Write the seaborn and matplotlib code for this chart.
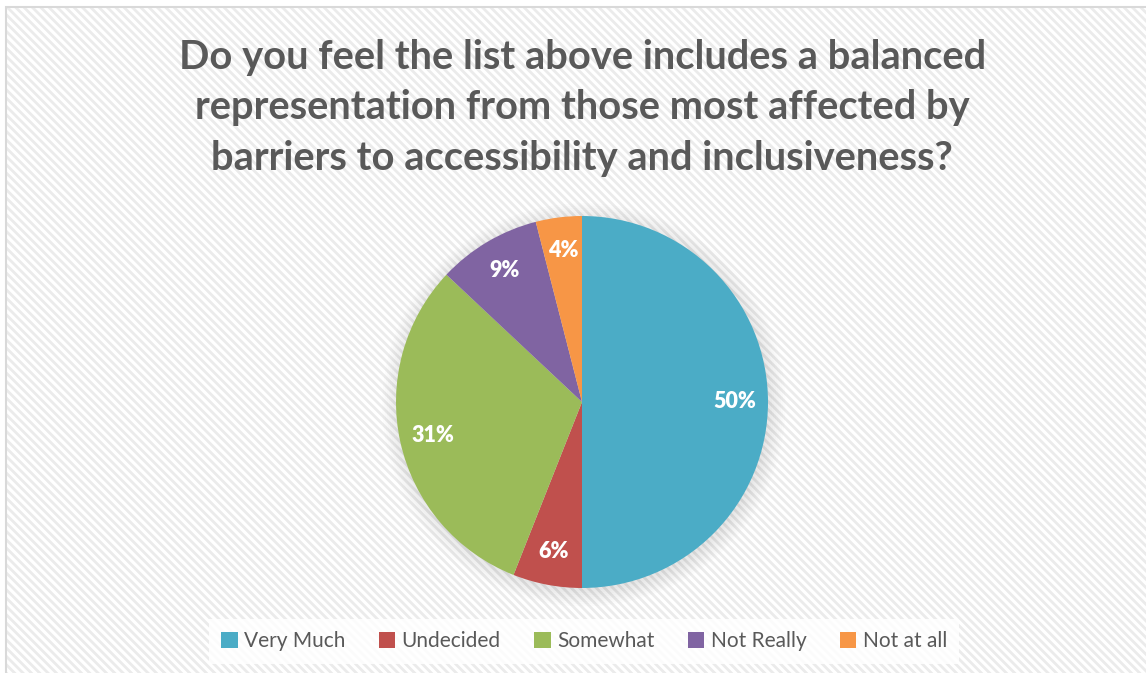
import matplotlib
matplotlib.use('Agg')
import matplotlib.pyplot as plt
from matplotlib.patches import Rectangle, Circle
import seaborn as sns

sns.set_theme(style='white')
plt.rcParams['font.family'] = ['Lato', 'DejaVu Sans']
plt.rcParams['hatch.color'] = '#ebebeb'
plt.rcParams['hatch.linewidth'] = 2.0

# data
answers = ['Very Much', 'Undecided', 'Somewhat', 'Not Really', 'Not at all']
shares = [50, 6, 31, 9, 4]
colors = ['#4BACC6', '#C0504D', '#9BBB59', '#8064A2', '#F79646']
title = ('Do you feel the list above includes a balanced\n'
         'representation from those most affected by\n'
         'barriers to accessibility and inclusiveness?')

W, H = 1146, 673
fig = plt.figure(figsize=(W / 100, H / 100), dpi=100)
fig.patch.set_facecolor('white')

# hatched chart area with light frame on top/left
bg = Rectangle((6 / W, 0), 1, 1 - 7 / H, transform=fig.transFigure,
               facecolor='white', edgecolor='#ebebeb', hatch='\\\\\\\\', lw=0, zorder=-2)
fig.patches.append(bg)
frame = Rectangle((6 / W, -0.01), 1.1, 1.01 - 7 / H, transform=fig.transFigure,
                  facecolor='none', edgecolor='#d9d9d9', lw=1.5, zorder=-1)
fig.patches.append(frame)

fig.text(0.508, 1 - 108 / H, title, ha='center', va='center', fontsize=28.7,
         fontweight='bold', color='#595959', linespacing=1.45)

cx, cy, r = 582, 402, 186
ax = fig.add_axes([(cx - r) / W, (H - cy - r) / H, 2 * r / W, 2 * r / H])
ax.set_facecolor('none')

# soft shadow
for i in range(8):
    ax.add_patch(Circle((0.01, -0.015), 1.0 + 0.012 * i, color='black',
                        alpha=0.012, lw=0, zorder=0, clip_on=False))

wedges, _, autotexts = ax.pie(shares, colors=colors, startangle=90, counterclock=False,
                              autopct='%1.0f%%', pctdistance=0.82,
                              wedgeprops=dict(lw=0),
                              textprops=dict(color='white', fontsize=15.5, fontweight='heavy'))
for w in wedges:
    w.set_zorder(2)
for t in autotexts:
    t.set_zorder(3)
ax.set_xlim(-1, 1)
ax.set_ylim(-1, 1)
ax.set_aspect('equal')
ax.axis('off')

leg = fig.legend(wedges, answers, loc='center', bbox_to_anchor=(584 / W, 1 - 641 / H),
                 ncol=5, frameon=True, fontsize=15, handlelength=0.8, handleheight=0.8,
                 handletextpad=0.3, columnspacing=1.6, borderpad=0.6)
leg.get_frame().set_facecolor('white')
leg.get_frame().set_alpha(0.85)
leg.get_frame().set_edgecolor('none')
leg.get_frame().set_boxstyle('square', pad=0)
for t in leg.get_texts():
    t.set_color('#595959')

fig.savefig('out.png', dpi=100)
